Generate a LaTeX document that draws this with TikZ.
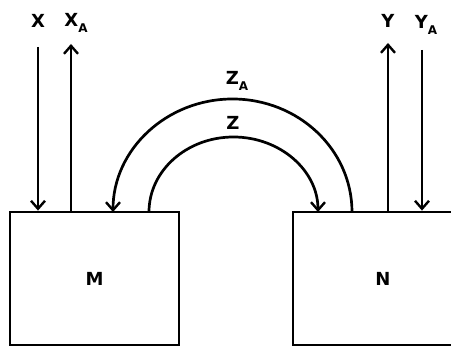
\documentclass[tikz,border=0pt]{standalone}
\usepackage{fontspec}
\setsansfont{DejaVu Sans}
\usepackage{tikz}
\usetikzlibrary{arrows.meta,positioning,calc}
\newcommand{\sub}[1]{\raisebox{-6pt}{\fontsize{12}{14}\selectfont #1}}

\begin{document}
\begin{tikzpicture}[
    x=1pt, y=1pt,
    unit/.style={rectangle, draw, line width=2.8pt, font=\fontsize{18}{20}\selectfont\sffamily\bfseries},
    flow/.style={-{Straight Barb[length=8pt, width=14pt, line width=2.4pt]}, line width=2.7pt},
    lab/.style={font=\fontsize{18}{20}\selectfont\sffamily\bfseries, inner sep=1pt}
]
\useasboundingbox (0,0) rectangle (451,347);
\clip (0,0) rectangle (451,347);

% Units
\node[unit, minimum width=169pt, minimum height=133pt] (M) at (94.5,68.5) {M};
\node[unit, minimum width=180pt, minimum height=133pt] (N) at (383,68.5) {N};

% Left side flows
\coordinate (xtop) at (38,300);
\coordinate (xatop) at (71,303);
\node[lab] (X) at (38,326) {X};
\node[lab] (XA) at (76,324) {X\sub{A}};
\draw[flow] (xtop) -- (xtop |- M.north);
\draw[flow] (xatop |- M.north) -- (xatop);

% Right side flows
\coordinate (ytop) at (388,304);
\coordinate (yatop) at (422,297);
\node[lab] (Y) at (388,326) {Y};
\node[lab] (YA) at (426,322) {Y\sub{A}};
\draw[flow] (ytop |- N.north) -- (ytop);
\draw[flow] (yatop) -- (yatop |- N.north);

% Exchange arcs
\coordinate (zs) at (149,135);
\coordinate (zas) at (352,135);
\draw[flow] (zs) arc[start angle=180, end angle=0, x radius=84.5, y radius=75];
\draw[flow] (zas) arc[start angle=0, end angle=180, x radius=119.5, y radius=113];
\node[lab] (Z) at (233,224) {Z};
\node[lab] (ZA) at (237,266) {Z\sub{A}};

\end{tikzpicture}
\end{document}
